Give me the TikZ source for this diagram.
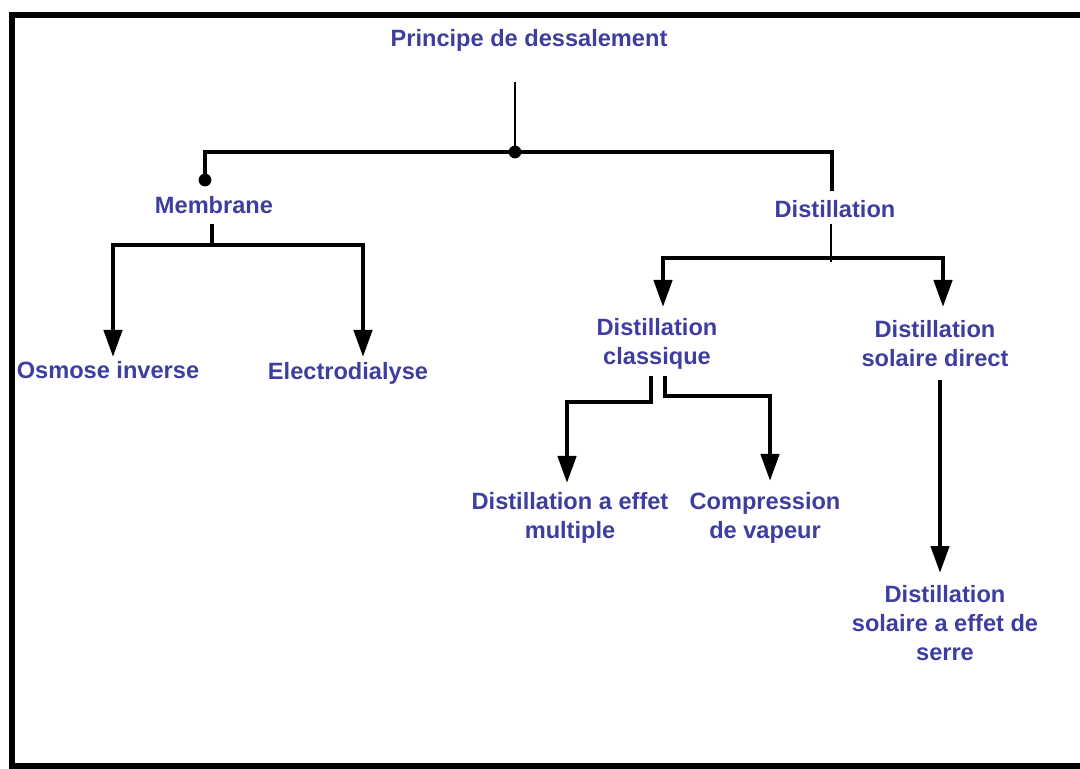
\documentclass[tikz,border=0pt]{standalone}
\usepackage{fontspec}
\setmainfont{Liberation Sans}
\usepackage{xcolor}
\usetikzlibrary{arrows.meta, calc}
\definecolor{labelblue}{RGB}{62,62,160}
\tikzset{
  txt/.style={text=labelblue, font=\bfseries\fontsize{11.8}{14.5}\selectfont,
    align=center, inner sep=0pt},
  bar/.style={draw=black, line width=2.2pt},
  leafarrow/.style={bar, -{Triangle[width=9pt,length=13.5pt]}}
}

\begin{document}
\begin{tikzpicture}[x=0.5pt,y=-0.5pt]
\useasboundingbox (0,0) rectangle (1080,769);
% frame
\draw[line width=3pt] (1080,15.5) -| (12,766) -- (1080,766);
\begin{scope}[every node/.style={txt}]
    \node (P) at (529,40) {Principe de dessalement};
    \node (M) at (214,205) {Membrane};
    \node (D) at (835,209) {Distillation};
    \node (OI) at (108,370) {Osmose inverse};
    \node (ED) at (348,373) {Electrodialyse};
    \node (DC) at (657,344) {Distillation\\classique};
    \node (DS) at (935,344) {Distillation\\solaire direct};
    \node (DEM) at (570,518) {Distillation a effet\\multiple};
    \node (CV) at (765,518) {Compression\\de vapeur};
    \node (DSS) at (945,623) {Distillation\\solaire a effet de\\serre};
\end{scope}
% junctions and arrow ends
\coordinate (Ptail) at (515,82);
\coordinate (hub) at (515,152);
\coordinate (Mdot) at (205,180);
\coordinate (Dtop) at (832,191);
\coordinate (Mtail) at (212,224);
\coordinate (Mfork) at (212,245);
\coordinate (OItip) at (113,357);
\coordinate (EDtip) at (363,357);
\coordinate (Dtail) at (831,224);
\coordinate (Dfork) at (831,258);
\coordinate (DCtip) at (663,307);
\coordinate (DStip) at (943,307);
\coordinate (DCl) at (651,376);
\coordinate (DCr) at (665,376);
\coordinate (DEMtip) at (567,483);
\coordinate (CVtip) at (770,481);
\coordinate (DSt) at (940,380);
\coordinate (DSStip) at (940,573);
\begin{scope}[every path/.style={bar}]
    \draw[line width=1pt] (Ptail) -- (hub);
    \draw (Mdot) |- (hub) -| (Dtop);
    \draw (Mtail) -- (Mfork);
    \draw[line width=0.6pt] (Dtail) -- ($(Dfork)+(0,4)$);
\end{scope}
\fill (hub) circle (3.2pt);
\fill (Mdot) circle (3.2pt);
\path[leafarrow] (Mfork) -| (OItip);
\path[leafarrow] (Mfork) -| (EDtip);
\path[leafarrow] (Dfork) -| (DCtip);
\path[leafarrow] (Dfork) -| (DStip);
\path[leafarrow] (DCl) -- ++(0,26) -| (DEMtip);
\path[leafarrow] (DCr) -- ++(0,20) -| (CVtip);
\path[leafarrow] (DSt) -- (DSStip);
\end{tikzpicture}
\end{document}
